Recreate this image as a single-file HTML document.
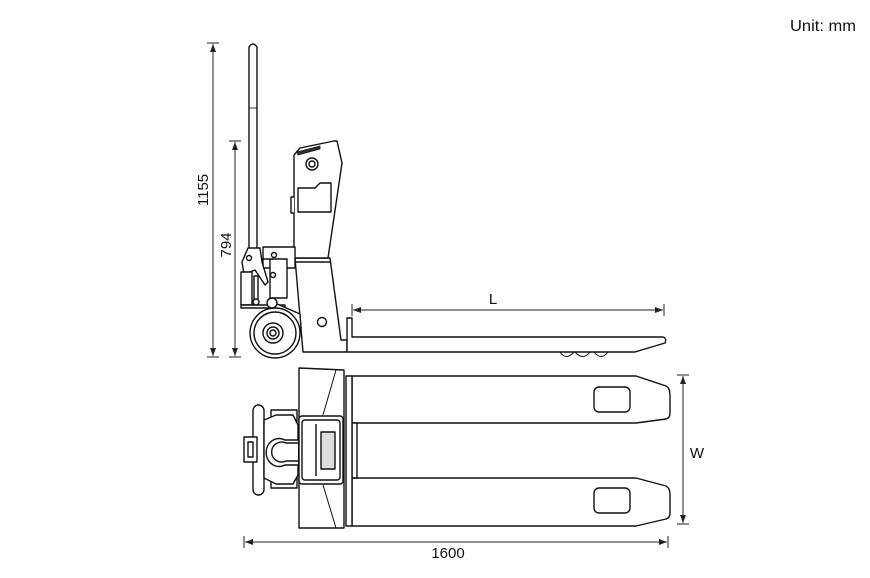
<!DOCTYPE html>
<html><head><style>
body{margin:0;background:#fff;}
svg{display:block}
text{font-family:"Liberation Sans",sans-serif;fill:#111}
</style></head><body>
<svg width="870" height="578" viewBox="0 0 870 578" xmlns="http://www.w3.org/2000/svg">
<defs>
<marker id="a" markerWidth="8" markerHeight="6" refX="8" refY="3" orient="auto-start-reverse"><path d="M0,0 L8,3 L0,6 z" fill="#222"/></marker>
</defs>
<text x="790" y="31" font-size="16" textLength="66" lengthAdjust="spacingAndGlyphs">Unit: mm</text>
<g stroke="#222" stroke-width="1" fill="none">
<line x1="207" y1="43" x2="219" y2="43"/><line x1="207" y1="357" x2="219" y2="357"/>
<line x1="213" y1="44" x2="213" y2="356" marker-start="url(#a)" marker-end="url(#a)"/>
<line x1="229" y1="141" x2="241" y2="141"/><line x1="229" y1="357" x2="241" y2="357"/>
<line x1="235" y1="142" x2="235" y2="356" marker-start="url(#a)" marker-end="url(#a)"/>
<line x1="352" y1="304" x2="352" y2="316"/><line x1="664" y1="304" x2="664" y2="316"/>
<line x1="353" y1="310" x2="663" y2="310" marker-start="url(#a)" marker-end="url(#a)"/>
<line x1="677" y1="375" x2="689" y2="375"/><line x1="677" y1="524" x2="689" y2="524"/>
<line x1="683" y1="376" x2="683" y2="523" marker-start="url(#a)" marker-end="url(#a)"/>
<line x1="244" y1="536" x2="244" y2="548"/><line x1="668" y1="536" x2="668" y2="548"/>
<line x1="245" y1="542" x2="667" y2="542" marker-start="url(#a)" marker-end="url(#a)"/>
</g>
<text transform="translate(208,190) rotate(-90)" font-size="15" text-anchor="middle">1155</text>
<text transform="translate(231,245) rotate(-90)" font-size="15" text-anchor="middle">794</text>
<text x="493" y="304" font-size="15" text-anchor="middle">L</text>
<text x="697" y="458" font-size="15" text-anchor="middle">W</text>
<text x="448" y="558" font-size="15" text-anchor="middle">1600</text>

<g stroke="#111" stroke-width="1.4" fill="#fff" stroke-linejoin="round">
<path d="M249,250 L249,47 Q253,41 257,47 L257,250 Z"/>
<line x1="249" y1="108" x2="257" y2="108" stroke-width="0.8"/>
<path d="M295,258 L303,352 L347,352 L347,340 L341,340 L330,258 Z"/>
<line x1="295" y1="262" x2="330" y2="262"/>
<circle cx="322" cy="322" r="4.5"/>
<path d="M294,258 L294,155 L300,148 L334,141 L337,141 L342,163 L328,258 Z"/>
<path d="M297,152 L320,146 L320,149 L298,155 Z" fill="#333" stroke-width="0.8"/>
<circle cx="312" cy="164" r="6"/><circle cx="312" cy="164" r="3"/>
<path d="M298,188 L315,188 L320,183 L331,183 L331,212 L298,212 Z"/>
<path d="M294,197 L291,197 L291,213 L294,213" />
<path d="M263,247 L295,247 L295,268 L263,268 Z"/>
<circle cx="274" cy="255" r="2.5"/>
<path d="M260,259 L287,259 L287,298 L270,298 L270,259 Z"/>
<circle cx="273" cy="275" r="2.5"/>
<path d="M248,248 L260,248 L262,262 L268,282 L265,285 L255,270 L244,274 L242,262 Z"/>
<circle cx="249" cy="258" r="2.5"/>
<path d="M241,272 L252,272 L252,305 L241,305 Z"/>
<path d="M254,276 L258,276 L258,305 L254,305 Z"/>
<path d="M241,305 L285,305 L285,308 L241,308 Z"/>
<path d="M268,300 L300,314 L301,328 L270,310 Z"/>
<circle cx="272" cy="303" r="5"/>
<circle cx="256" cy="302" r="3"/>
<circle cx="275" cy="333" r="25"/><circle cx="275" cy="333" r="21"/>
<circle cx="273" cy="333" r="10"/><circle cx="273" cy="333" r="6"/><circle cx="273" cy="333" r="3"/>
<path d="M560,352 Q566,361 574,352 M575,352 Q583,361 590,352 M594,352 Q601,361 608,352" stroke-width="1"/>
<path d="M347,318 L352,318 L352,337 L663,337 Q667,338 665,343 L635,352 L347,352 Z"/>

<path d="M352,376 L636,376 L666,386 Q670,388 670,395 L670,413 Q670,418 666,419 L636,423 L352,423 Z"/>
<path d="M352,478 L636,478 L666,486 Q670,488 670,495 L670,513 Q670,518 666,519 L636,526 L352,526 Z"/>
<rect x="594" y="387" width="36" height="25" rx="5"/>
<rect x="594" y="488" width="36" height="25" rx="5"/>
<rect x="352" y="423" width="5" height="55"/>
<rect x="346" y="376" width="6" height="150"/>
<path d="M299,368 L344,370 L344,528 L299,528 Z"/>
<path d="M336,370 L323,415 M336,528 L323,485" stroke-width="1"/>
<rect x="253" y="405" width="11" height="90" rx="5.5"/>
<path d="M271,410 L297,410 L297,488 L271,488 Z"/>
<path d="M264,420 L276,415 L293,415 L298,425 L298,475 L293,484 L276,484 L264,478 Z"/>
<rect x="244" y="437" width="13" height="25"/>
<rect x="248" y="442" width="5" height="15"/>
<path d="M298,440 L285,440 A13,14 0 1,0 285,465 L298,465"/>
<path d="M298,443 L286,443 A10,10 0 1,0 286,461 L298,461"/>
<rect x="299" y="416" width="44" height="68" rx="3"/>
<rect x="302" y="420" width="38" height="60" rx="3"/>
<line x1="316" y1="424" x2="316" y2="476"/>
<rect x="321" y="432" width="14" height="37" fill="#ddd"/>
</g>
</svg>
</body></html>
